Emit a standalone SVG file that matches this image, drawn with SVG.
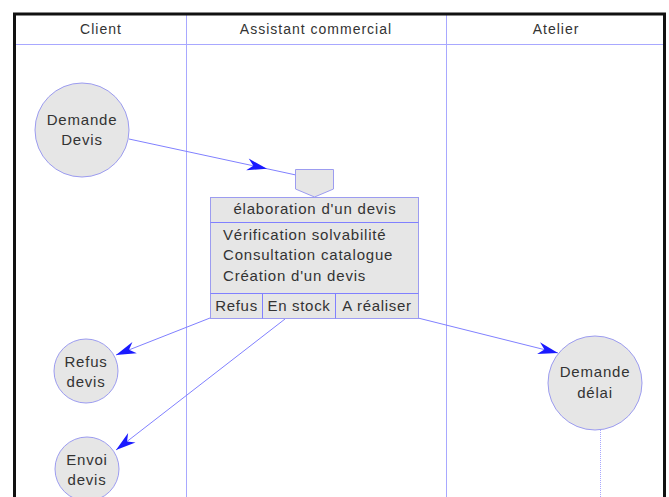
<svg xmlns="http://www.w3.org/2000/svg" width="669" height="497" viewBox="0 0 669 497">
<style>
text{font-family:"Liberation Sans",Arial,sans-serif;fill:#333;font-size:15px;letter-spacing:0.8px}
.h{font-size:14px;letter-spacing:1px}
.c{text-anchor:middle}
.s{letter-spacing:0.7px}
.lane{stroke:#a8a8ff;stroke-width:1;fill:none}
.node{fill:#e6e6e6;stroke:#9c9cf0;stroke-width:1}
.conn{stroke:#8080ff;stroke-width:1;fill:none}
.ah{fill:#1a1aff;stroke:none}
</style>
<defs>
<path id="arr" d="M0,0 L-20,-6 L-14,0 L-20,6 Z"/>
</defs>
<rect x="0" y="0" width="669" height="497" fill="#fff"/>
<g id="lanes">
<line class="lane" x1="16" y1="44.5" x2="663" y2="44.5"/>
<line class="lane" x1="186.5" y1="15" x2="186.5" y2="497"/>
<line class="lane" x1="446.5" y1="15" x2="446.5" y2="497"/>
<rect x="14.5" y="14" width="650" height="500" fill="none" stroke="#111" stroke-width="3"/>
<text class="c h" x="101" y="34">Client</text>
<text class="c h" x="316" y="34">Assistant commercial</text>
<text class="c h" x="556" y="34">Atelier</text>
</g>
<g id="connectors">
<line class="conn" x1="129" y1="139" x2="296" y2="175"/>
<use href="#arr" class="ah" transform="translate(267,168.7) rotate(12.2)"/>
<line class="conn" x1="210" y1="318" x2="116" y2="355"/>
<use href="#arr" class="ah" transform="translate(116,355) rotate(158.5)"/>
<line class="conn" x1="285" y1="319" x2="116" y2="450"/>
<use href="#arr" class="ah" transform="translate(116,450) rotate(142.2)"/>
<line class="conn" x1="418" y1="318" x2="558" y2="353"/>
<use href="#arr" class="ah" transform="translate(558,353) rotate(14)"/>
<line x1="600.5" y1="428" x2="600.5" y2="497" stroke="#a8a8ff" stroke-width="1" stroke-dasharray="1,1"/>
</g>
<g id="demande-devis">
<circle class="node" cx="82" cy="130" r="47"/>
<text class="c" x="82" y="125">Demande</text>
<text class="c" x="82" y="145">Devis</text>
</g>
<g id="elaboration">
<path class="node" d="M295.5,169.5 H333.5 V189 L314.5,197 L295.5,189 Z"/>
<rect class="node" x="210.5" y="197.5" width="208" height="121"/>
<line class="conn" x1="210.5" y1="222.5" x2="418.5" y2="222.5"/>
<line class="conn" x1="210.5" y1="293.5" x2="418.5" y2="293.5"/>
<line class="conn" x1="262.5" y1="293.5" x2="262.5" y2="318.5"/>
<line class="conn" x1="335.5" y1="293.5" x2="335.5" y2="318.5"/>
<text class="c" x="315" y="214">élaboration d'un devis</text>
<text x="223" y="240">Vérification solvabilité</text>
<text x="223" y="260">Consultation catalogue</text>
<text x="223" y="281">Création d'un devis</text>
<text class="c s" x="236.5" y="311">Refus</text>
<text class="c s" x="299" y="311">En stock</text>
<text class="c s" x="377" y="311">A réaliser</text>
</g>
<g id="refus-devis">
<circle class="node" cx="86" cy="371" r="32"/>
<text class="c" x="86" y="367">Refus</text>
<text class="c" x="86" y="387">devis</text>
</g>
<g id="envoi-devis">
<circle class="node" cx="87" cy="469" r="32"/>
<text class="c" x="87" y="465">Envoi</text>
<text class="c" x="87" y="485">devis</text>
</g>
<g id="demande-delai">
<circle class="node" cx="595" cy="383" r="47"/>
<text class="c" x="595" y="377">Demande</text>
<text class="c" x="595" y="398">délai</text>
</g>
</svg>
